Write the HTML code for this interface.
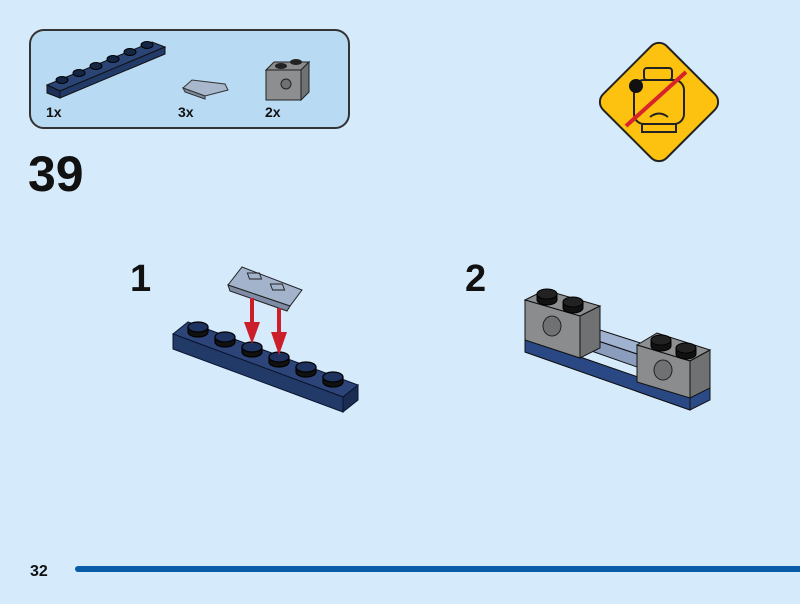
<!DOCTYPE html>
<html><head><style>
body{margin:0;width:800px;height:604px;background:#d5eafa;overflow:hidden;font-family:"Liberation Sans",sans-serif;}
</style></head><body>
<svg width="800" height="604" xmlns="http://www.w3.org/2000/svg" style="position:absolute;left:0;top:0">
<rect x="30" y="30" width="319" height="98" rx="14" fill="#b9daf3" stroke="#333" stroke-width="2"/>
<g stroke="#111" stroke-width="1">
<polygon points="47,85 152,42 165,47 60,91" fill="#2b4476"/>
<polygon points="47,85 60,91 60,98 47,93" fill="#1d2f57"/>
<polygon points="60,91 165,47 165,54 60,98" fill="#223a68"/>
</g>
<g fill="#152544" stroke="#000">
<ellipse cx="62" cy="80" rx="6" ry="3.5"/><ellipse cx="79" cy="73" rx="6" ry="3.5"/><ellipse cx="96" cy="66" rx="6" ry="3.5"/><ellipse cx="113" cy="59" rx="6" ry="3.5"/><ellipse cx="130" cy="52" rx="6" ry="3.5"/><ellipse cx="147" cy="45" rx="6" ry="3.5"/>
</g>
<polygon points="183,88 192,80 225,84 228,90 205,96" fill="#a9b7cc" stroke="#333"/>
<polygon points="183,88 205,96 205,99 185,92" fill="#7d8ba3" stroke="#333"/>
<polygon points="266,70 274,62 309,62 301,70" fill="#8b8d8e" stroke="#222"/>
<rect x="266" y="70" width="35" height="30" fill="#8c8e90" stroke="#222"/>
<polygon points="301,70 309,62 309,92 301,100" fill="#6f7173" stroke="#222"/>
<ellipse cx="281" cy="66" rx="6" ry="3" fill="#222"/><ellipse cx="296" cy="62" rx="6" ry="3" fill="#222"/>
<circle cx="286" cy="84" r="5" fill="#6f7173" stroke="#222"/>
<text x="46" y="117" font-size="14" font-weight="bold" fill="#111">1x</text>
<text x="178" y="117" font-size="14" font-weight="bold" fill="#111">3x</text>
<text x="265" y="117" font-size="14" font-weight="bold" fill="#111">2x</text>
<text x="28" y="191" font-size="50" font-weight="bold" fill="#111">39</text>
<text x="130" y="291" font-size="38" font-weight="bold" fill="#111">1</text>
<text x="465" y="291" font-size="38" font-weight="bold" fill="#111">2</text>
<g transform="translate(659,102) rotate(45)">
<rect x="-45" y="-45" width="90" height="90" rx="11" fill="#fcc20f" stroke="#222" stroke-width="2"/>
</g>
<rect x="644" y="68" width="28" height="12" rx="3" fill="none" stroke="#222" stroke-width="2"/>
<rect x="634" y="80" width="50" height="44" rx="10" fill="none" stroke="#222" stroke-width="2"/>
<rect x="642" y="124" width="34" height="8" fill="none" stroke="#222" stroke-width="2"/>
<path d="M650 117 q9 -7 18 0" fill="none" stroke="#222" stroke-width="2"/>
<circle cx="636" cy="86" r="7" fill="#111"/>
<line x1="626" y1="126" x2="686" y2="72" stroke="#d8232a" stroke-width="4"/>
<g stroke="#0a1430" stroke-width="1">
<polygon points="173,334 188,322 358,385 343,397" fill="#2c4477"/>
<polygon points="173,334 343,397 343,412 173,349" fill="#223a68"/>
<polygon points="343,397 358,385 358,400 343,412" fill="#1a2c52"/>
</g>
<g fill="#1e3260" stroke="#000" stroke-width="1.2">
<path d="M188 327 v5 a10 5 0 0 0 20 0 v-5" fill="#111"/><ellipse cx="198" cy="327" rx="10" ry="5"/>
<path d="M215 337 v5 a10 5 0 0 0 20 0 v-5" fill="#111"/><ellipse cx="225" cy="337" rx="10" ry="5"/>
<path d="M242 347 v5 a10 5 0 0 0 20 0 v-5" fill="#111"/><ellipse cx="252" cy="347" rx="10" ry="5"/>
<path d="M269 357 v5 a10 5 0 0 0 20 0 v-5" fill="#111"/><ellipse cx="279" cy="357" rx="10" ry="5"/>
<path d="M296 367 v5 a10 5 0 0 0 20 0 v-5" fill="#111"/><ellipse cx="306" cy="367" rx="10" ry="5"/>
<path d="M323 377 v5 a10 5 0 0 0 20 0 v-5" fill="#111"/><ellipse cx="333" cy="377" rx="10" ry="5"/>
</g>
<polygon points="228,285 242,267 302,290 290,306" fill="#a3b3cc" stroke="#222"/>
<polygon points="228,285 290,306 287,311 230,291" fill="#7e8ca6" stroke="#222"/>
<rect x="248" y="273" width="12" height="6" fill="none" stroke="#222" transform="skewX(20) translate(-100,0)"/>
<rect x="272" y="284" width="12" height="6" fill="none" stroke="#222" transform="skewX(20) translate(-105,0)"/>
<g fill="#cc1d2a">
<rect x="250" y="298" width="4" height="33"/><polygon points="244,322 260,322 252,344"/>
<rect x="277" y="308" width="4" height="34"/><polygon points="271,332 287,332 279,355"/>
</g>
<g stroke="#111" stroke-width="1">
<polygon points="525,338 690,395 710,385 710,400 690,410 525,352" fill="#2b4a86"/>
<polygon points="525,338 690,395 690,410 525,352" fill="#2a4884"/>
<polygon points="580,335 640,355 656,348 600,330" fill="#9fb2cf"/>
<polygon points="580,335 640,355 640,368 580,347" fill="#8b9dbd"/>
<polygon points="525,300 545,290 600,306 580,316" fill="#8d8f91"/>
<polygon points="525,300 580,316 580,358 525,340" fill="#8a8c8e"/>
<polygon points="580,316 600,306 600,348 580,358" fill="#6f7173"/>
<polygon points="637,345 657,333 710,350 690,361" fill="#8d8f91"/>
<polygon points="637,345 690,361 690,398 637,382" fill="#8a8c8e"/>
<polygon points="690,361 710,350 710,388 690,398" fill="#6f7173"/>
</g>
<g fill="#222" stroke="#000">
<path d="M537 294 v6 a10 5 0 0 0 20 0 v-6" fill="#111"/><ellipse cx="547" cy="294" rx="10" ry="5"/>
<path d="M563 302 v6 a10 5 0 0 0 20 0 v-6" fill="#111"/><ellipse cx="573" cy="302" rx="10" ry="5"/>
<path d="M651 340 v6 a10 5 0 0 0 20 0 v-6" fill="#111"/><ellipse cx="661" cy="340" rx="10" ry="5"/>
<path d="M676 348 v6 a10 5 0 0 0 20 0 v-6" fill="#111"/><ellipse cx="686" cy="348" rx="10" ry="5"/>
</g>
<ellipse cx="552" cy="326" rx="9" ry="10" fill="#6f7173" stroke="#222"/>
<ellipse cx="663" cy="370" rx="9" ry="10" fill="#6f7173" stroke="#222"/>
<text x="30" y="576" font-size="16" font-weight="bold" fill="#111">32</text>
<rect x="75" y="566" width="740" height="6" rx="3" fill="#0a5ca8"/>
</svg>
</body></html>
